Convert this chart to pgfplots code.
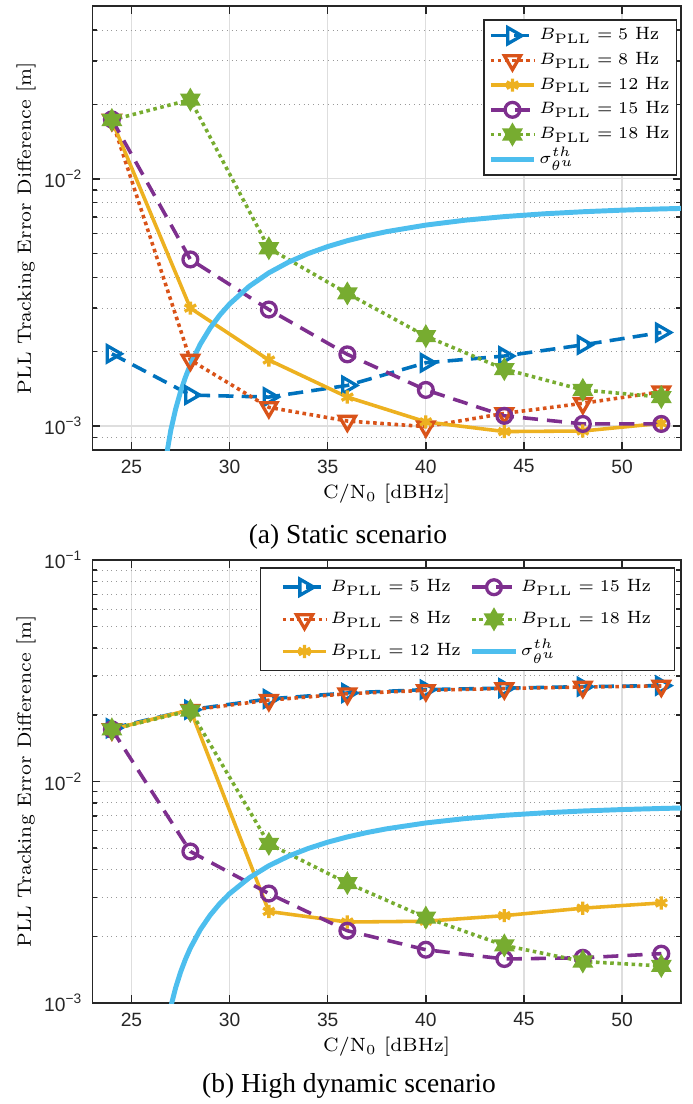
\documentclass[border=0pt]{standalone}
\usepackage[no-math]{fontspec}
\newfontfamily\timesf{Liberation Serif}
\newfontfamily\helv{Liberation Sans}
\usepackage{pgfplots}
\pgfplotsset{compat=1.18}
\usetikzlibrary{plotmarks}

\definecolor{mblue}{RGB}{0,114,189}
\definecolor{morange}{RGB}{217,83,25}
\definecolor{myellow}{RGB}{237,177,32}
\definecolor{mpurple}{RGB}{126,47,142}
\definecolor{mgreen}{RGB}{119,172,48}
\definecolor{mcyan}{RGB}{77,190,238}

\pgfdeclareplotmark{hexagram}{%
 \pgfpathmoveto{\pgfpointpolar{90}{\pgfplotmarksize}}%
 \pgfpathlineto{\pgfpointpolar{120}{0.57735\pgfplotmarksize}}%
 \pgfpathlineto{\pgfpointpolar{150}{\pgfplotmarksize}}%
 \pgfpathlineto{\pgfpointpolar{180}{0.57735\pgfplotmarksize}}%
 \pgfpathlineto{\pgfpointpolar{210}{\pgfplotmarksize}}%
 \pgfpathlineto{\pgfpointpolar{240}{0.57735\pgfplotmarksize}}%
 \pgfpathlineto{\pgfpointpolar{270}{\pgfplotmarksize}}%
 \pgfpathlineto{\pgfpointpolar{300}{0.57735\pgfplotmarksize}}%
 \pgfpathlineto{\pgfpointpolar{330}{\pgfplotmarksize}}%
 \pgfpathlineto{\pgfpointpolar{0}{0.57735\pgfplotmarksize}}%
 \pgfpathlineto{\pgfpointpolar{30}{\pgfplotmarksize}}%
 \pgfpathlineto{\pgfpointpolar{60}{0.57735\pgfplotmarksize}}%
 \pgfpathclose
 \pgfusepathqfillstroke
}

\tikzset{
 s5/.style={color=mblue, line width=1.3pt, dash pattern=on 5.5pt off 3pt, mark=triangle, mark size=3.4pt, mark options={solid, rotate=-90, line width=1.2pt}},
 s8/.style={color=morange, line width=1.3pt, dash pattern=on 1.3pt off 1.3pt, mark=triangle, mark size=3.4pt, mark options={solid, rotate=180, line width=1.2pt}},
 s12/.style={color=myellow, line width=1.3pt, solid, mark=asterisk, mark size=2.4pt, mark options={solid, line width=1.2pt}},
 s15/.style={color=mpurple, line width=1.3pt, dash pattern=on 5.5pt off 3.3pt, mark=o, mark size=2.7pt, mark options={solid, line width=1.2pt}},
 s18/.style={color=mgreen, line width=1.3pt, dash pattern=on 1.3pt off 1.3pt, mark=hexagram, mark size=3.6pt, mark options={solid, fill=mgreen, line width=0.8pt}},
 sth/.style={color=mcyan, line width=1.8pt, solid},
}

\pgfplotsset{
 legend image code/.code={\draw[mark repeat=2,mark phase=2,#1] plot coordinates {(0pt,0pt) (7.9pt,0pt) (15.8pt,0pt)};},
}

\begin{document}
\begin{tikzpicture}
\path[use as bounding box] (0pt,0pt) rectangle (252.03pt,-402.08pt);

\begin{semilogyaxis}[at={(33.6pt,-2.19pt)}, anchor=north west,
  scale only axis, width=214.4pt, height=161.7pt,
  xmin=23, xmax=53, ymin=8e-4, ymax=0.05,
  xtick={25,30,35,40,45,50}, xticklabels={25,30,35,40,45,50},
  tick align=inside, major tick length=3pt, minor tick length=1.8pt,
  xmajorgrids=true, ymajorgrids=true, yminorgrids=true,
  major grid style={solid, color=black!13, line width=0.45pt},
  minor grid style={color=black!40, line width=0.35pt, dash pattern=on 0.35pt off 1.4pt},
  axis line style={black!85, line width=0.5pt},
  tick style={black!85, line width=0.5pt},
  ticklabel style={font=\helv\fontsize{7}{8}\selectfont, color=black!85},
  yticklabel={\pgfmathtruncatemacro\myexp{round(-\tick/2.302585)}10\textsuperscript{−\myexp}},
  label style={font=\fontsize{7}{8.4}\selectfont},
  xlabel={C/N$_0$ [dBHz]},
  ylabel={PLL Tracking Error Difference [m]},
  xlabel style={at={(axis description cs:0.5,-0.099)}, anchor=center},
  ylabel style={at={(axis description cs:-0.1126,0.5)}, anchor=center},
  legend cell align=left,
  legend style={at={(0.9932,0.970)}, anchor=north east, font=\fontsize{6.5}{7.8}\selectfont,
    draw=black!85, line width=0.5pt, fill=white, row sep=1.8pt, inner xsep=1.5pt, inner ysep=2.1pt,
    nodes={inner ysep=0.5pt, inner xsep=1pt, text height=4.6pt, text depth=1.6pt}}]
\addplot[s5] coordinates {(24,0.00196) (28,0.001335) (32,0.00131) (36,0.00146) (40,0.001803) (44,0.00192) (48,0.00213) (52,0.00239)};
\addlegendentry{$B_{\mathrm{PLL}}=5$ Hz}
\addplot[s8] coordinates {(24,0.0173) (28,0.00185) (32,0.00119) (36,0.001048) (40,0.000995) (44,0.001125) (48,0.001236) (52,0.001377)};
\addlegendentry{$B_{\mathrm{PLL}}=8$ Hz}
\addplot[s12] coordinates {(24,0.0172) (28,0.003) (32,0.00185) (36,0.00131) (40,0.00104) (44,0.00095) (48,0.000955) (52,0.001026)};
\addlegendentry{$B_{\mathrm{PLL}}=12$ Hz}
\addplot[s15] coordinates {(24,0.0174) (28,0.00472) (32,0.00296) (36,0.00195) (40,0.0014) (44,0.0011) (48,0.00102) (52,0.00102)};
\addlegendentry{$B_{\mathrm{PLL}}=15$ Hz}
\addplot[s18] coordinates {(24,0.0173) (28,0.0209) (32,0.00524) (36,0.00344) (40,0.00231) (44,0.0017) (48,0.0014) (52,0.00131)};
\addlegendentry{$B_{\mathrm{PLL}}=18$ Hz}
\addplot[sth, no markers] coordinates {(26.7,0.000696) (27.0,0.00096) (27.25,0.001172) (27.5,0.001378) (27.75,0.001577) (28,0.001771) (28.5,0.00214) (29,0.002486) (29.5,0.002812) (30,0.003118) (31,0.003675) (32,0.004167) (33,0.004601) (34,0.004984) (35,0.005322) (36,0.00562) (37,0.005883) (38,0.006115) (40,0.006501) (42,0.006802) (44,0.007036) (46,0.007218) (48,0.00736) (50,0.007471) (52,0.007557) (53,0.007592)};
\addlegendentry{$\sigma^{th}_{\theta^{u}}$}
\end{semilogyaxis}

\begin{semilogyaxis}[at={(33.6pt,-203.95pt)}, anchor=north west,
  scale only axis, width=214.4pt, height=161.34pt,
  xmin=23, xmax=53, ymin=1e-3, ymax=0.1,
  xtick={25,30,35,40,45,50}, xticklabels={25,30,35,40,45,50},
  tick align=inside, major tick length=3pt, minor tick length=1.8pt,
  xmajorgrids=true, ymajorgrids=true, yminorgrids=true,
  major grid style={solid, color=black!13, line width=0.45pt},
  minor grid style={color=black!40, line width=0.35pt, dash pattern=on 0.35pt off 1.4pt},
  axis line style={black!85, line width=0.5pt},
  tick style={black!85, line width=0.5pt},
  ticklabel style={font=\helv\fontsize{7}{8}\selectfont, color=black!85},
  yticklabel={\pgfmathtruncatemacro\myexp{round(-\tick/2.302585)}10\textsuperscript{−\myexp}},
  label style={font=\fontsize{7}{8.4}\selectfont},
  xlabel={C/N$_0$ [dBHz]},
  ylabel={PLL Tracking Error Difference [m]},
  xlabel style={at={(axis description cs:0.5,-0.0993)}, anchor=center},
  ylabel style={at={(axis description cs:-0.1126,0.5)}, anchor=center},
  legend cell align=left,
  legend columns=2,
  legend style={at={(0.9898,0.9835)}, anchor=north east, font=\fontsize{6.5}{7.8}\selectfont,
    draw=black!85, line width=0.5pt, fill=white, row sep=4.5pt, inner xsep=7.5pt, inner ysep=3.4pt,
    nodes={inner ysep=0.5pt, inner xsep=1pt, text height=4.6pt, text depth=1.6pt},
    /tikz/every even column/.append style={column sep=2.3pt}}]
\addplot[s5, forget plot] coordinates {(24,0.0174) (28,0.0211) (32,0.0236) (36,0.0251) (40,0.026) (44,0.0264) (48,0.0268) (52,0.0271)};
\addplot[s8, forget plot] coordinates {(24,0.0172) (28,0.021) (32,0.0233) (36,0.0249) (40,0.0258) (44,0.0263) (48,0.0267) (52,0.027)};
\addplot[s12, forget plot] coordinates {(24,0.0172) (28,0.0211) (32,0.00259) (36,0.00232) (40,0.00234) (44,0.00248) (48,0.00268) (52,0.00283)};
\addplot[s15, forget plot] coordinates {(24,0.0172) (28,0.00483) (32,0.00312) (36,0.00212) (40,0.00174) (44,0.00158) (48,0.0016) (52,0.00167)};
\addplot[s18, forget plot] coordinates {(24,0.0172) (28,0.0209) (32,0.00523) (36,0.00348) (40,0.00243) (44,0.00182) (48,0.00154) (52,0.00147)};
\addplot[sth, no markers, forget plot] coordinates {(26.7,0.000696) (27.0,0.00096) (27.25,0.001172) (27.5,0.001378) (27.75,0.001577) (28,0.001771) (28.5,0.00214) (29,0.002486) (29.5,0.002812) (30,0.003118) (31,0.003675) (32,0.004167) (33,0.004601) (34,0.004984) (35,0.005322) (36,0.00562) (37,0.005883) (38,0.006115) (40,0.006501) (42,0.006802) (44,0.007036) (46,0.007218) (48,0.00736) (50,0.007471) (52,0.007557) (53,0.007592)};
\addlegendimage{s5}\addlegendentry{$B_{\mathrm{PLL}}=5$ Hz}
\addlegendimage{s15}\addlegendentry{$B_{\mathrm{PLL}}=15$ Hz}
\addlegendimage{s8}\addlegendentry{$B_{\mathrm{PLL}}=8$ Hz}
\addlegendimage{s18}\addlegendentry{$B_{\mathrm{PLL}}=18$ Hz}
\addlegendimage{s12}\addlegendentry{$B_{\mathrm{PLL}}=12$ Hz}
\addlegendimage{sth, no markers}\addlegendentry{$\sigma^{th}_{\theta^{u}}$}
\end{semilogyaxis}

\node[font=\timesf\fontsize{10}{12}\selectfont] at (126.7pt,-195.6pt) {(a) Static scenario};
\node[font=\timesf\fontsize{10}{12}\selectfont] at (127.1pt,-395.5pt) {(b) High dynamic scenario};
\end{tikzpicture}
\end{document}
